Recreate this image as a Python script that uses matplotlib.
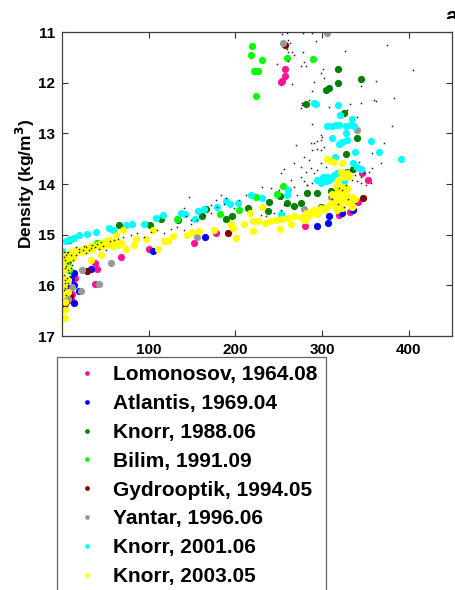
import matplotlib
matplotlib.use("Agg")
import matplotlib.pyplot as plt
from matplotlib.lines import Line2D
from matplotlib.transforms import Bbox, TransformedBbox

plt.rcParams['font.family'] = ['Liberation Sans', 'DejaVu Sans']
plt.rcParams['font.weight'] = 'bold'
plt.rcParams['mathtext.default'] = 'bf'

# ---------------- data (distance, density) ----------------
labels = ["Lomonosov, 1964.08", "Atlantis, 1969.04", "Knorr, 1988.06", "Bilim, 1991.09",
          "Gydrooptik, 1994.05", "Yantar, 1996.06", "Knorr, 2001.06", "Knorr, 2003.05"]
colors = ["#ff1493", "#0000ff", "#007f00", "#00ff00", "#800000", "#999999", "#00ffff", "#ffff00"]

lomonosov = [(257.2, 11.74), (257.2, 11.87), (253.8, 11.97), (252.2, 11.99), (345.7, 13.78),
             (352.9, 13.92), (341.5, 14.35), (332.2, 14.56), (319.5, 14.61), (280.3, 14.82),
             (178.0, 14.96), (152.3, 15.17), (100.3, 15.29), (38.0, 15.55), (40.0, 15.68),
             (37.7, 15.98), (14.6, 15.85), (12.0, 16.18), (10.0, 16.27), (4.3, 16.32),
             (67.7, 15.45), (2.0, 16.45)]
atlantis = [(336.8, 14.32), (336.1, 14.51), (323.4, 14.58), (308.0, 14.63), (307.3, 14.76),
            (293.8, 14.82), (164.6, 15.04), (105.0, 15.32), (33.1, 15.67), (13.8, 15.76),
            (8.0, 16.06), (19.6, 16.11), (13.8, 16.34), (13.8, 16.0), (10.0, 15.88)]
knorr1988 = [(318.8, 11.74), (344.9, 11.93), (318.8, 12.0), (304.2, 12.14), (308.0, 12.11),
             (281.1, 12.42), (325.7, 12.6), (340.4, 13.09), (327.6, 13.41), (336.1, 13.7),
             (328.4, 13.76), (310.0, 14.13), (293.8, 14.17), (283.0, 14.17), (267.6, 14.43),
             (260.0, 14.37), (275.3, 14.37), (298.4, 14.45), (251.4, 14.23), (238.8, 14.36),
             (238.1, 14.54), (214.5, 14.48), (196.5, 14.63), (189.6, 14.69), (165.8, 14.49),
             (161.9, 14.64), (134.2, 14.71), (113.8, 14.69), (101.5, 14.8), (65.7, 14.8),
             (7.8, 15.1), (4.4, 15.4)]
bilim = [(218.8, 11.27), (218.5, 11.45), (230.3, 11.55), (221.0, 11.77), (225.7, 11.77),
         (224.2, 12.27), (259.2, 11.52), (290.0, 11.54), (254.9, 14.03), (248.5, 14.2),
         (224.2, 14.26), (204.2, 14.52), (182.2, 14.59), (133.1, 14.7), (40.8, 15.17),
         (8.0, 15.7), (7.4, 15.53)]
gydrooptik = [(257.2, 11.26), (347.6, 14.27), (191.9, 14.97), (29.3, 15.71), (0.5, 16.41),
              (2.0, 16.38), (3.5, 16.35), (5.0, 16.31), (6.5, 16.28), (8.0, 16.25), (9.5, 16.21)]
yantar = [(305.3, 11.02), (254.6, 11.22), (340.6, 12.93), (309.9, 14.26), (279.1, 14.5),
          (156.2, 15.04), (57.0, 15.55), (42.7, 15.98), (23.5, 15.7), (21.6, 16.12),
          (11.2, 16.03), (6.9, 16.26)]
knorr2001 = [(318.8, 12.45), (290.7, 12.41), (293.4, 12.43), (320.6, 12.63), (334.9, 12.72),
             (306.0, 12.85), (311.8, 12.85), (315.7, 12.84), (319.5, 12.84), (327.2, 12.85),
             (333.0, 12.84), (336.8, 12.86), (327.2, 13.0), (356.1, 13.15), (311.0, 13.09),
             (329.2, 13.13), (323.4, 13.18), (319.5, 13.22), (314.5, 13.47), (365.6, 13.37),
             (391.5, 13.51), (337.6, 13.37), (336.1, 13.59), (340.7, 13.66), (344.6, 13.71),
             (301.5, 13.86), (306.0, 13.86), (309.9, 13.89), (294.6, 13.92), (298.4, 13.99),
             (313.7, 13.82), (317.6, 13.79), (321.5, 13.76), (304.2, 13.95), (308.0, 13.93),
             (325.3, 13.95), (260.6, 14.12), (260.0, 14.22), (188.8, 14.33), (193.7, 14.4),
             (203.0, 14.37), (217.6, 14.22), (230.3, 14.28), (178.4, 14.46), (163.8, 14.5),
             (156.9, 14.53), (141.5, 14.59), (153.4, 14.7), (252.2, 14.6), (136.9, 14.57),
             (116.5, 14.61), (108.1, 14.68), (94.6, 14.78), (81.2, 14.78), (74.3, 14.81),
             (58.8, 14.91), (54.2, 14.87), (39.7, 14.94), (29.3, 14.99), (19.6, 15.01),
             (13.8, 15.06), (10.0, 15.09), (5.0, 15.12), (0.5, 15.32)]
knorr2003 = [(2, 15.4), (2, 15.54), (2, 15.7), (2, 15.85), (2, 16.01), (2, 16.17), (3, 16.33),
             (3, 16.49), (3, 16.65), (6.6, 15.46), (6.6, 15.66), (6.6, 15.89), (6.6, 16.13),
             (10, 15.34), (12.3, 15.46), (15.8, 15.3), (21.6, 15.3), (27.3, 15.26), (33.1, 15.22),
             (40, 15.2), (44.6, 15.16), (50.4, 15.12), (53.8, 15.1), (58.5, 15.22), (33.1, 15.5),
             (44.6, 15.4), (62, 15.0), (67.7, 15.16), (70.8, 14.91), (73.5, 15.28), (82.7, 15.2),
             (85, 15.09), (96.5, 15.09), (105.4, 14.91), (110.5, 15.28), (117.3, 15.12),
             (121.9, 15.12), (127.7, 15.03), (144.6, 15.01), (150.4, 14.94), (157.7, 14.93),
             (175, 14.91), (196.9, 14.86), (200.6, 15.06), (194.6, 14.78), (209.9, 14.78),
             (220.3, 14.93), (220.8, 14.74), (226.5, 14.74), (234.1, 14.76), (239.9, 14.73),
             (247.3, 14.71), (251.4, 14.89), (254.2, 14.7), (260.7, 14.68), (263.8, 14.78),
             (267.6, 14.63), (279.9, 14.71), (281.1, 14.58), (286.9, 14.56), (292.6, 14.53),
             (293.8, 14.6), (230.3, 14.46), (216.5, 14.58), (306.1, 13.51), (309.9, 13.54),
             (313.7, 13.56), (322.6, 13.58), (329.2, 13.78), (315.7, 14.04), (319.5, 14.05),
             (323.4, 14.07), (329.2, 14.07), (323.4, 14.22), (317.6, 14.25), (321.5, 14.28),
             (325.3, 14.32), (329.2, 14.35), (333, 14.39), (309.9, 14.38), (313.7, 14.41),
             (306.1, 14.45), (298.4, 14.48), (290.7, 14.51), (286.9, 14.58), (283, 14.65),
             (279.1, 14.71), (302.2, 14.51), (317.6, 14.51), (323.4, 14.48), (275.3, 14.65),
             (321.5, 13.76), (325.3, 13.86), (331, 13.84), (334.1, 14.45), (327.2, 14.12),
             (319, 13.92), (315, 14.3), (320, 14.35), (312, 14.2), (328, 14.2), (335, 14.25),
             (318, 14.15), (325, 14.05), (338, 14.3), (20, 15.35), (25, 15.32), (30, 15.3),
             (35, 15.28), (45, 15.25), (50, 15.2), (55, 15.18), (60, 15.15), (65, 15.2)]

series = [lomonosov, atlantis, knorr1988, bilim, gydrooptik, yantar, knorr2001, knorr2003]

# small background dots (all other measurements)
dots = [(253.4, 11.03), (259.2, 11.01), (278.4, 11.02), (288.8, 11.02), (293.4, 11.18), (261.1, 11.16),
        (263.0, 11.22), (259.2, 11.33), (260.7, 11.39), (265.7, 11.39), (267.6, 11.46), (278.0, 11.39),
        (326.1, 11.38), (248.4, 11.64), (260.7, 11.58), (275.3, 11.68), (281.4, 11.68), (278.8, 11.6),
        (300.7, 11.74), (298.4, 11.81), (302.2, 11.91), (290.7, 11.99), (265.7, 12.03), (288.8, 12.17),
        (361.8, 11.96), (344.6, 12.07), (308.0, 12.48), (276.5, 12.41), (277.3, 12.45), (284.9, 12.34),
        (275.3, 12.5), (331.8, 12.42), (344.6, 12.4), (361.8, 12.36), (340.7, 12.68), (329.2, 12.53),
        (374.5, 11.26), (404.5, 11.75), (383.0, 12.31), (380.3, 12.85), (359.9, 12.34),
        (288.8, 12.82), (269.6, 13.23), (286.9, 13.2), (290.7, 13.2), (293.8, 13.16), (298.4, 13.13),
        (300.3, 13.07), (298.4, 13.03), (288.8, 13.33), (294.6, 13.3), (298.4, 13.33), (302.2, 13.26),
        (279.1, 13.46), (284.9, 13.53), (298.4, 13.59), (304.2, 13.66), (267.6, 13.59), (275.3, 13.66),
        (281.1, 13.76), (286.9, 13.69), (290.7, 13.79), (294.6, 13.72), (333.0, 13.72), (338.4, 13.82),
        (344.6, 13.86), (348.4, 13.79), (354.1, 13.76), (358.0, 13.69), (367.6, 13.59), (335.0, 13.92),
        (340.7, 13.95), (344.6, 13.99), (350.3, 14.02), (356.1, 13.99), (275.3, 13.86), (279.1, 13.95),
        (283.0, 14.02), (267.6, 14.05), (263.8, 13.92), (319.5, 14.08), (323.4, 14.12), (327.2, 14.02),
        (252.2, 13.79), (256.1, 13.71), (371.4, 13.2), (358.0, 13.39), (342.6, 13.56),
        (141.0, 14.48), (142.9, 14.64), (148.4, 14.71), (171.5, 14.41), (177.3, 14.31), (183.0, 14.22),
        (188.8, 14.28), (198.4, 14.48), (204.1, 14.32), (211.9, 14.22), (231.1, 14.05), (240.7, 14.08),
        (250.3, 14.12), (229.2, 14.61), (234.9, 14.64), (244.5, 14.58), (252.2, 14.51), (256.1, 14.41),
        (271.5, 14.22), (283.0, 14.02), (288.8, 13.99), (79.2, 15.01), (86.9, 14.97), (94.6, 15.04),
        (102.3, 14.94), (110.0, 14.91), (117.7, 14.97), (125.4, 14.88), (133.1, 14.84), (140.8, 14.91),
        (148.4, 14.78), (156.1, 14.71), (163.8, 14.61), (171.5, 14.58), (179.2, 14.45), (186.9, 14.39),
        (146.5, 14.25), (318.0, 14.4), (325.0, 14.45), (312.0, 14.3), (330.0, 14.3),
        (2.0, 15.34), (4.3, 15.4), (6.6, 15.34), (10.0, 15.4), (3.1, 15.5), (5.4, 15.56), (8.9, 15.54),
        (12.3, 15.5), (3.1, 15.66), (6.6, 15.7), (10.0, 15.66), (2.0, 15.8), (5.4, 15.86), (8.9, 15.82),
        (3.1, 15.95), (6.6, 16.01), (2.0, 16.09), (4.3, 16.19), (15.8, 15.4), (19.3, 15.34), (23.9, 15.3),
        (27.3, 15.36), (30.8, 15.3), (33.1, 15.26), (37.7, 15.24), (42.3, 15.28), (46.9, 15.22),
        (50.4, 15.3), (16.0, 15.25), (20.0, 15.28), (25.0, 15.22), (28.0, 15.25), (35.0, 15.2),
        (40.0, 15.18), (45.0, 15.15), (55.0, 15.12), (60.0, 15.1), (65.0, 15.08), (70.0, 15.05),
        (2.5, 15.45), (5.0, 15.62), (8.0, 15.75), (4.0, 15.9), (7.5, 15.95), (3.0, 16.05), (11.0, 15.6)]

xticks = [100, 200, 300, 400]
yticks = [11, 12, 13, 14, 15, 16, 17]

# ---------------- figure ----------------
fig = plt.figure(figsize=(4.55, 5.9), dpi=100)
ax = fig.add_axes([62 / 455, 1 - 336 / 590, 390 / 455, 304 / 590])

handles = []
for data, col, lab in zip(series, colors, labels):
    xs = [p[0] for p in data]
    ys = [p[1] for p in data]
    ax.plot(xs, ys, linestyle='none', marker='o', ms=5.2, mec='none', mfc=col, zorder=2)
    handles.append(Line2D([], [], linestyle='none', marker='o', ms=3.4, mec='none', mfc=col, label=lab))

ax.plot([p[0] for p in dots], [p[1] for p in dots], linestyle='none', marker='s', ms=1.1,
        mec='none', mfc='#202020', zorder=3)

ax.set_xlim(0, 450)
ax.set_ylim(17, 11)
ax.set_xticks(xticks)
ax.set_yticks(yticks)
ax.tick_params(direction='in', top=True, right=True, length=4, width=0.8, labelsize=11,
               pad=5, color='#333333')
for lab in ax.get_xticklabels() + ax.get_yticklabels():
    lab.set_fontweight('bold')
for s in ax.spines.values():
    s.set_color('#404040')
    s.set_linewidth(0.9)
ax.set_ylabel(r'Density (kg/m$^3$)', fontsize=12.5, fontweight='bold', labelpad=1)

leg = fig.legend(handles=handles, loc='upper left', bbox_to_anchor=(57 / 455, 1 - 357 / 590),
                 bbox_transform=fig.transFigure, fontsize=15, frameon=True, fancybox=False,
                 edgecolor='#404040', borderpad=0.4, handlelength=2.1, handletextpad=0.2,
                 labelspacing=0.47, borderaxespad=0, numpoints=1)
leg.get_frame().set_linewidth(0.9)
for t in leg.get_texts():
    t.set_fontweight('bold')

# partially cut panel letter in the top right corner
corner = fig.text(445 / 455, 1 - 23 / 590, 'a', fontsize=16, fontweight='bold')
corner.set_clip_box(TransformedBbox(Bbox([[0.0, 1 - 19 / 590], [1.0, 1.0]]), fig.transFigure))
corner.set_clip_on(True)

fig.savefig('out.png', dpi=100)
